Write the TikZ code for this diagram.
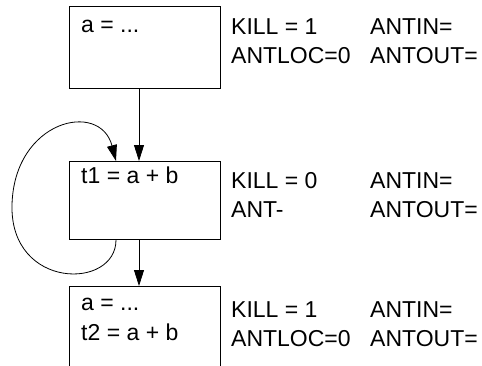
\documentclass[tikz,border=0pt]{standalone}
\usepackage{fontspec}
\setmainfont{Liberation Sans}
\usetikzlibrary{arrows.meta}
\begin{document}
\begin{tikzpicture}[x=1pt,y=-1pt,
  blk/.style={draw=black,line width=0.9pt,rectangle,inner sep=0pt,anchor=north west,minimum width=151pt},
  txt/.style={anchor=base west,inner sep=0pt,font=\fontsize{23}{28}\selectfont},
  arr/.style={line width=0.8pt,-{Triangle[length=16pt,width=10pt]}},
  loopline/.style={line width=0.8pt,-{Triangle[length=16pt,width=10pt]}}]
\clip (0,0) rectangle (482,365);
% blocks
\node[blk,minimum height=82pt] (b1) at (69,6) {};
\node[blk,minimum height=78pt] (b2) at (69,161) {};
\node[blk,minimum height=100pt] (b3) at (69,286) {};
% block texts
\node[txt] (t1) at (81,32) {a = ...};
\node[txt] (t2) at (81,183) {t1 = a + b};
\node[txt] (t3) at (81,310) {a = ...};
\node[txt] (t4) at (81,340) {t2 = a + b};
% labels
\node[txt] (k1) at (231,34) {KILL = 1};
\node[txt] (i1) at (370,34) {ANTIN=};
\node[txt] (l1) at (231,63) {ANTLOC=0};
\node[txt] (o1) at (370,63) {ANTOUT=};
\node[txt] (k2) at (231,188) {KILL = 0};
\node[txt] (i2) at (370,188) {ANTIN=};
\node[txt] (l2) at (231,217) {ANT-};
\node[txt] (o2) at (370,217) {ANTOUT=};
\node[txt] (k3) at (231,317) {KILL = 1};
\node[txt] (i3) at (370,317) {ANTIN=};
\node[txt] (l3) at (231,346) {ANTLOC=0};
\node[txt] (o3) at (370,346) {ANTOUT=};
% connector points
\coordinate (x1) at (139,0);
\coordinate (x2) at (116,0);
% arrows
\draw[arr] (b1.south -| x1) -- (b2.north -| x1);
\draw[arr] (b2.south -| x1) -- (b3.north -| x1);
% loop
\coordinate (lm) at (12,205);
\draw[loopline] (b2.south -| x2) .. controls (116,290) and (10,290) .. (lm)
  .. controls (14,120) and (100,100) .. (b2.north -| x2);
\end{tikzpicture}
\end{document}
